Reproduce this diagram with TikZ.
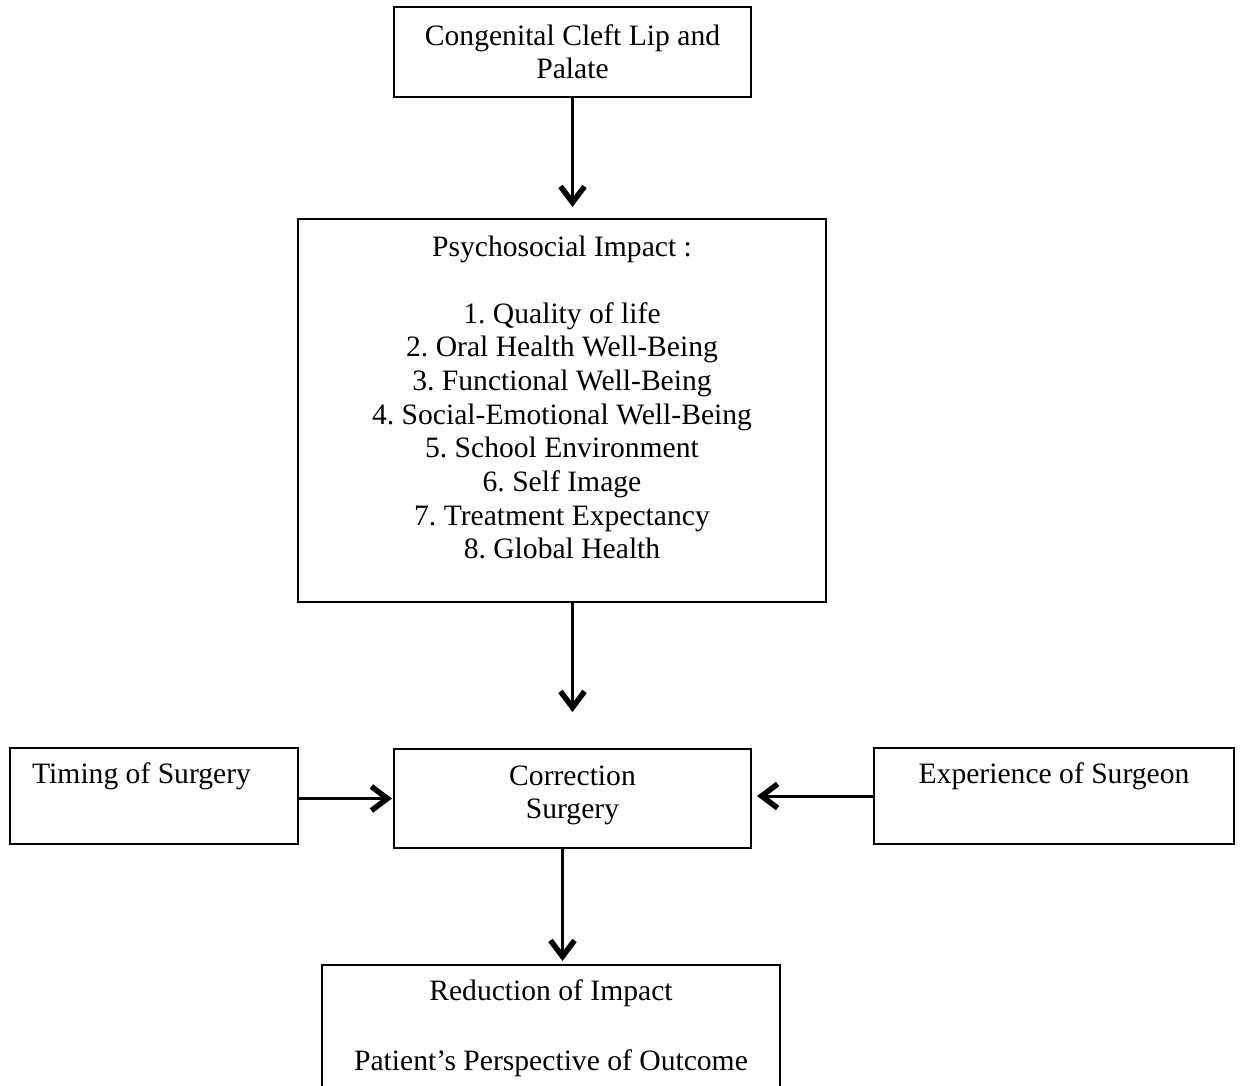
\documentclass[tikz,border=0pt]{standalone}
\usepackage{fontspec}
\setmainfont{Liberation Serif}
\usetikzlibrary{arrows.meta}
\frenchspacing
\begin{document}
\begin{tikzpicture}[x=1pt,y=-1pt,
  box/.style={draw, line width=2pt, inner sep=0pt, rectangle},
  txt/.style={inner sep=0pt, font=\fontsize{29.6}{34}\selectfont, anchor=base},
  arr/.style={line width=3pt, -{Straight Barb[length=16pt,width=24pt,line width=5.5pt]}}]
\useasboundingbox (0,0) rectangle (1240,1085);
\clip (0,0) rectangle (1240,1085);
% boxes
\node[box, minimum width=357pt, minimum height=90pt] (top) at (572.5,52) {};
\node[box, minimum width=528pt, minimum height=383pt] (psy) at (562,410.5) {};
\node[box, minimum width=357pt, minimum height=99pt] (corr) at (572.5,798.5) {};
\node[box, minimum width=288pt, minimum height=96pt] (timing) at (154,796) {};
\node[box, minimum width=360pt, minimum height=96pt] (exp) at (1054,796) {};
\node[box, minimum width=458pt, minimum height=140pt] (red) at (551,1035) {};
% texts
\node[txt] (top1) at (572.5,45) {Congenital Cleft Lip and};
\node[txt] (top2) at (572.5,78) {Palate};
\node[txt] (psyh) at (562,256) {Psychosocial Impact :};
\foreach \t [count=\i from 0] in {1. Quality of life, 2. Oral Health Well-Being,
  3. Functional Well-Being, 4. Social-Emotional Well-Being, 5. School Environment,
  6. Self Image, 7. Treatment Expectancy, 8. Global Health}
  \node[txt] (psy\i) at (562,323+33.67*\i) {\t};
\node[txt] (corr1) at (572.5,785) {Correction};
\node[txt] (corr2) at (572.5,818) {Surgery};
\node[txt, anchor=base west] (timt) at (32,783) {Timing of Surgery};
\node[txt] (expt) at (1054,783) {Experience of Surgeon};
\node[txt] (red1) at (551,1000) {Reduction of Impact};
\node[txt] (red2) at (551,1070) {Patient’s Perspective of Outcome};
% arrows
\draw[arr] (top.south) -- ([yshift=11pt]top.south |- psy.north);
\draw[arr] (psy.south -| corr.north) -- ([yshift=36pt]corr.north);
\draw[arr] ([xshift=-10pt]corr.south) -- ([xshift=-10pt,yshift=3pt]corr.south |- red.north);
\draw[arr] (timing.east |- corr.west) -- ([xshift=-1pt]corr.west);
\draw[arr] (exp.west) -- ([xshift=5pt]corr.east |- exp.west);
\end{tikzpicture}
\end{document}
